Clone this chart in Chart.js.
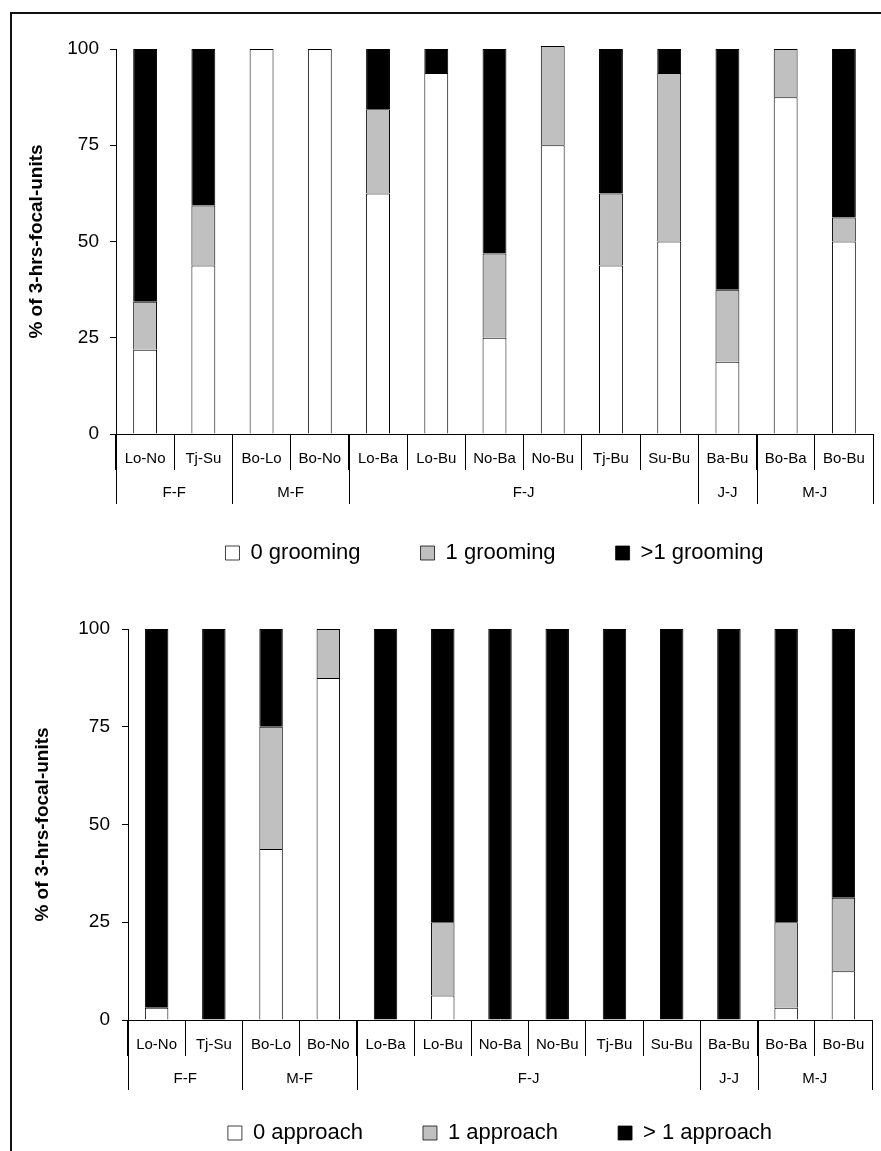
<!DOCTYPE html>
<html>
<head>
<meta charset="utf-8">
<script src="https://cdn.jsdelivr.net/npm/chart.js@4.4.1/dist/chart.umd.min.js"></script>
<style>
  html, body { margin: 0; padding: 0; background: #fff; overflow: hidden; }
  #page { position: relative; width: 881px; height: 1151px; overflow: hidden; }
  #frame { position: absolute; left: 10px; top: 12px; width: 900px; height: 1200px;
           border-left: 2px solid #111; border-top: 2px solid #111; }
  canvas { position: absolute; left: 0; }
  #grooming { top: 0; }
  #approach { top: 590px; }
</style>
</head>
<body>
<div id="page">
  <div id="frame"></div>
  <canvas id="grooming" width="881" height="574"></canvas>
  <canvas id="approach" width="881" height="564"></canvas>
</div>
<script>
// dyads and the class of each dyad
const pairs = ['Lo-No', 'Tj-Su', 'Bo-Lo', 'Bo-No', 'Lo-Ba', 'Lo-Bu', 'No-Ba', 'No-Bu', 'Tj-Bu', 'Su-Bu', 'Ba-Bu', 'Bo-Ba', 'Bo-Bu'];
const groups = ['F-F', 'M-F', 'F-J', 'J-J', 'M-J'];
const groupSizes = [2, 2, 6, 1, 2];
const yTicks = [0, 25, 50, 75, 100];

// grooming per 3-hrs focal unit (%)
const grooming0 = [21.875, 43.75, 100, 100, 62.5, 93.75, 25, 75, 43.75, 50, 18.75, 87.5, 50];
const grooming1 = [12.5, 15.625, 0, 0, 21.875, 0, 21.875, 25.8, 18.75, 43.75, 18.75, 12.5, 6.25];
const groomingMore = [65.625, 40.625, 0, 0, 15.625, 6.25, 53.125, 0, 37.5, 6.25, 62.5, 0, 43.75];

// approaches per 3-hrs focal unit (%)
const approach0 = [3.125, 0, 43.75, 87.5, 0, 6.25, 0, 0, 0, 0, 0, 3.125, 12.5];
const approach1 = [0, 0, 31.25, 12.5, 0, 18.75, 0, 0, 0, 0, 0, 21.875, 18.75];
const approachMore = [96.875, 100, 25, 0, 100, 75, 100, 100, 100, 100, 100, 75, 68.75];

Chart.defaults.font.family = '"Liberation Sans", Arial, sans-serif';
Chart.defaults.color = '#000';

// second row of the x axis: class names with longer dividers
const groupAxis = {
    id: 'groupAxis',
    afterDraw(chart) {
        const ctx = chart.ctx;
        const x = chart.scales.x;
        const bottom = chart.chartArea.bottom;
        const half = (x.getPixelForValue(1) - x.getPixelForValue(0)) / 2;
        ctx.save();
        ctx.strokeStyle = '#000';
        ctx.lineWidth = 1;
        ctx.fillStyle = '#000';
        ctx.font = '15px "Liberation Sans", Arial, sans-serif';
        ctx.textAlign = 'center';
        ctx.textBaseline = 'middle';
        let start = 0;
        groups.forEach((g, i) => {
            const end = start + groupSizes[i];
            const left = x.getPixelForValue(start) - half;
            const right = x.getPixelForValue(end - 1) + half;
            [left, right].forEach(px => {
                const lx = Math.round(px) + 0.5;
                ctx.beginPath();
                ctx.moveTo(lx, bottom);
                ctx.lineTo(lx, bottom + 70);
                ctx.stroke();
            });
            ctx.fillText(g, (left + right) / 2, bottom + 59);
            start = end;
        });
        ctx.restore();
    }
};

function segment(label, data, color) {
    return {
        label: label,
        data: data,
        backgroundColor: color,
        borderColor: '#000',
        borderWidth: {top: 1, left: 1, right: 1, bottom: 0},
        borderSkipped: false,
        barPercentage: 0.41,
        categoryPercentage: 1,
        clip: false
    };
}

function drawChart(id, names, series, box) {
    new Chart(document.getElementById(id), {
        type: 'bar',
        data: {
            labels: pairs,
            datasets: [
                segment(names[0], series[0], '#ffffff'),
                segment(names[1], series[1], '#c0c0c0'),
                segment(names[2], series[2], '#000000')
            ]
        },
        options: {
            responsive: false,
            animation: false,
            devicePixelRatio: 1,
            layout: { padding: { top: box.top, right: box.right, left: 0, bottom: 0 } },
            plugins: {
                tooltip: { enabled: false },
                legend: {
                    position: 'bottom',
                    fullSize: false,
                    labels: {
                        boxWidth: 14,
                        boxHeight: 14,
                        padding: 60,
                        color: '#000',
                        font: { size: 22 }
                    }
                }
            },
            scales: {
                x: {
                    stacked: true,
                    offset: true,
                    border: { color: '#000', width: 1 },
                    grid: { offset: true, drawOnChartArea: false, tickLength: 36, color: '#000', tickColor: '#000' },
                    ticks: { autoSkip: false, maxRotation: 0, padding: -20, color: '#000', font: { size: 15 } },
                    afterFit(scale) { scale.height = box.xHeight; }
                },
                y: {
                    stacked: true,
                    min: 0,
                    max: 100,
                    border: { color: '#000', width: 1 },
                    grid: { drawOnChartArea: false, tickLength: 6, color: '#000', tickColor: '#000' },
                    ticks: { padding: box.tickPad, color: '#000', font: { size: 19 } },
                    afterBuildTicks(scale) { scale.ticks = yTicks.map(v => ({ value: v })); },
                    title: {
                        display: true,
                        text: '% of 3-hrs-focal-units',
                        color: '#000',
                        font: { size: 19, weight: 'bold' },
                        padding: { top: box.titlePad, bottom: 0 }
                    },
                    afterFit(scale) { scale.width = box.yWidth; }
                }
            }
        },
        plugins: [groupAxis]
    });
}

drawChart('grooming', ['0 grooming', '1 grooming', '>1 grooming'],
    [grooming0, grooming1, groomingMore],
    { top: 49, right: 8, xHeight: 48, yWidth: 116, tickPad: 11, titlePad: 25 });

drawChart('approach', ['0 approach', '1 approach', '> 1 approach'],
    [approach0, approach1, approachMore],
    { top: 39, right: 9, xHeight: 42, yWidth: 128, tickPad: 12, titlePad: 31 });
</script>
</body>
</html>
